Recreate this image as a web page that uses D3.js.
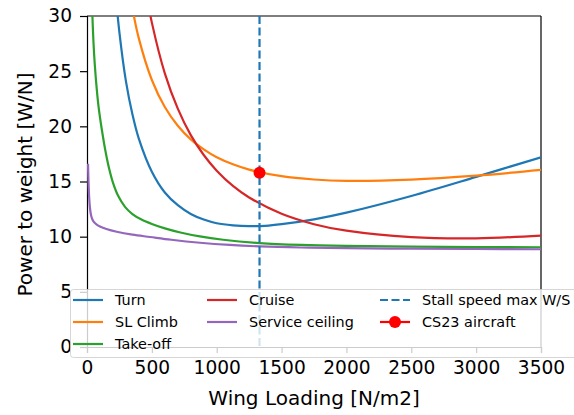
<!DOCTYPE html>
<html>
<head>
<meta charset="utf-8">
<script src="https://cdn.jsdelivr.net/npm/d3@7"></script>
<style>
  html, body { margin: 0; padding: 0; background: #fff; }
  svg { display: block; font-family: "DejaVu Sans", sans-serif; }
</style>
</head>
<body>
<svg id="chart" width="574" height="415"></svg>
<script>
// Power-to-weight constraint curves vs wing loading
const xTicks = [0, 500, 1000, 1500, 2000, 2500, 3000, 3500];
const yTicks = [0, 5, 10, 15, 20, 25, 30];

const turnWS   = [220, 250, 300, 350, 400, 500, 600, 700, 800, 900, 1000, 1125, 1250, 1375, 1500, 1750, 2000, 2500, 3000, 3500];
const turnPW   = [32.1, 28.5, 24.1, 21.1, 18.86, 15.88, 14.0, 12.85, 12.06, 11.55, 11.22, 11.03, 10.95, 10.98, 11.13, 11.57, 12.18, 13.69, 15.42, 17.2];

const climbWS  = [300, 350, 400, 500, 600, 700, 800, 900, 1000, 1125, 1250, 1500, 1750, 2000, 2500, 3000, 3500];
const climbPW  = [34.3, 30.7, 27.95, 24.2, 21.75, 20.05, 18.82, 17.91, 17.2, 16.56, 16.08, 15.48, 15.18, 15.06, 15.17, 15.53, 16.05];

const takeoffWS = [40, 50, 60, 75, 90, 113, 140, 170, 200, 240, 293, 350, 420, 500, 600, 720, 870, 1050, 1330, 1650, 2000, 2500, 3000, 3500];
const takeoffPW = [30.5, 27.6, 25.6, 23.4, 21.7, 19.8, 17.9, 16.2, 14.9, 13.7, 12.7, 12.05, 11.55, 11.15, 10.75, 10.38, 10.02, 9.72, 9.42, 9.25, 9.16, 9.1, 9.06, 9.04];

const cruiseWS = [450, 500, 600, 700, 800, 900, 1000, 1125, 1250, 1500, 1750, 2000, 2500, 3000, 3500];
const cruisePW = [32.5, 29.4, 24.8, 21.6, 19.2, 17.4, 15.98, 14.6, 13.55, 12.07, 11.13, 10.54, 9.96, 9.85, 10.1];

const ceilingWS = [8, 10, 13, 17, 22, 30, 40, 55, 75, 100, 150, 229, 350, 486, 650, 871, 1100, 1333, 1650, 2000, 2500, 3000, 3500];
const ceilingPW = [16.6, 15.6, 14.5, 13.5, 12.7, 12.0, 11.6, 11.3, 11.1, 10.93, 10.7, 10.45, 10.18, 9.97, 9.72, 9.45, 9.25, 9.12, 9.02, 8.96, 8.91, 8.88, 8.86];

const stallWS = 1330;          // stall speed max W/S
const aircraftWS = 1330;       // CS23 aircraft design point
const aircraftPW = 15.8;

const seriesNames  = ["Turn", "SL Climb", "Take-off", "Cruise", "Service ceiling"];
const seriesColors = ["#1f77b4", "#ff7f0e", "#2ca02c", "#d62728", "#9467bd"];
const seriesX = [turnWS, climbWS, takeoffWS, cruiseWS, ceilingWS];
const seriesY = [turnPW, climbPW, takeoffPW, cruisePW, ceilingPW];

const svg = d3.select("#chart");
const margin = { left: 87, right: 33, top: 16, bottom: 68 };
const W = 574, H = 415;
const x = d3.scaleLinear().domain([0, 3500]).range([margin.left, W - margin.right]);
const y = d3.scaleLinear().domain([0, 30]).range([H - margin.bottom, margin.top]);

svg.append("defs").append("clipPath").attr("id", "plotClip")
  .append("rect")
  .attr("x", x(0)).attr("y", y(30))
  .attr("width", x(3500) - x(0)).attr("height", y(0) - y(30));

// Axes
const tickFont = "18.6px";
const xAxis = svg.append("g").attr("transform", `translate(0,${y(0)})`)
  .call(d3.axisBottom(x).tickValues(xTicks).tickFormat(d3.format("d")).tickSize(6).tickPadding(7));
const yAxis = svg.append("g").attr("transform", `translate(${x(0)},0)`)
  .call(d3.axisLeft(y).tickValues(yTicks).tickFormat(d3.format("d")).tickSize(7).tickPadding(8));
[xAxis, yAxis].forEach(g => {
  g.select(".domain").attr("stroke", "#000").attr("stroke-width", 1.2);
  g.selectAll(".tick line").attr("stroke", "#000").attr("stroke-width", 1.2);
  g.selectAll(".tick text").attr("fill", "#000").style("font-size", tickFont)
    .style("font-family", "DejaVu Sans");
});
xAxis.selectAll(".tick text").attr("dy", "0.75em");

// Top and right spines
svg.append("line").attr("x1", x(0)).attr("x2", x(3500)).attr("y1", y(30)).attr("y2", y(30))
  .attr("stroke", "#000").attr("stroke-width", 1.2);
svg.append("line").attr("x1", x(3500)).attr("x2", x(3500)).attr("y1", y(30)).attr("y2", y(0))
  .attr("stroke", "#000").attr("stroke-width", 1.2);

// Axis titles
svg.append("text").attr("x", (x(0) + x(3500)) / 2).attr("y", 405)
  .attr("text-anchor", "middle").style("font-size", "20px").attr("fill", "#000")
  .text("Wing Loading [N/m2]");
svg.append("text").attr("transform", `translate(32,${(y(0) + y(30)) / 2 + 3}) rotate(-90)`)
  .attr("text-anchor", "middle").style("font-size", "20px").attr("fill", "#000")
  .text("Power to weight [W/N]");

// Constraint curves
const plot = svg.append("g").attr("clip-path", "url(#plotClip)");
const line = d3.line().x(d => x(d[0])).y(d => y(d[1])).curve(d3.curveCatmullRom.alpha(0.5));
seriesNames.forEach((name, i) => {
  const pts = seriesX[i].map((v, j) => [v, seriesY[i][j]]);
  plot.append("path").datum(pts)
    .attr("d", line)
    .attr("fill", "none")
    .attr("stroke", seriesColors[i])
    .attr("stroke-width", 2.2);
});

// Stall speed limit
plot.append("line")
  .attr("x1", x(stallWS)).attr("x2", x(stallWS))
  .attr("y1", y(30)).attr("y2", y(0))
  .attr("stroke", "#1f77b4").attr("stroke-width", 2.2)
  .attr("stroke-dasharray", "8,3.5");

// Design point
svg.append("circle").attr("cx", x(aircraftWS)).attr("cy", y(aircraftPW)).attr("r", 6)
  .attr("fill", "#ff0000");

// Legend
const legend = svg.append("g");
legend.append("rect")
  .attr("x", 70.5).attr("y", 289.5).attr("width", 520).attr("height", 68)
  .attr("rx", 3).attr("ry", 3)
  .attr("fill", "#fff").attr("fill-opacity", 0.8)
  .attr("stroke", "#cccccc").attr("stroke-opacity", 0.8).attr("stroke-width", 1);

const legendItems = [
  { label: "Turn",            color: "#1f77b4", col: 0, row: 0 },
  { label: "SL Climb",        color: "#ff7f0e", col: 0, row: 1 },
  { label: "Take-off",        color: "#2ca02c", col: 0, row: 2 },
  { label: "Cruise",          color: "#d62728", col: 1, row: 0 },
  { label: "Service ceiling", color: "#9467bd", col: 1, row: 1 },
  { label: "Stall speed max W/S", color: "#1f77b4", col: 2, row: 0, dashed: true },
  { label: "CS23 aircraft",   color: "#ff0000", col: 2, row: 1, marker: true }
];
const colX = [73, 207, 380];
const rowY = [300, 322, 344];
legendItems.forEach(it => {
  const hx = colX[it.col], hy = rowY[it.row];
  legend.append("line")
    .attr("x1", hx).attr("x2", hx + 30).attr("y1", hy).attr("y2", hy)
    .attr("stroke", it.color).attr("stroke-width", 2.2)
    .attr("stroke-dasharray", it.dashed ? "8,3.5" : null);
  if (it.marker) {
    legend.append("circle").attr("cx", hx + 15).attr("cy", hy).attr("r", 6).attr("fill", it.color);
  }
  legend.append("text")
    .attr("x", hx + 42).attr("y", hy).attr("dy", "0.36em")
    .style("font-size", "14.4px").attr("fill", "#000")
    .text(it.label);
});
</script>
</body>
</html>
